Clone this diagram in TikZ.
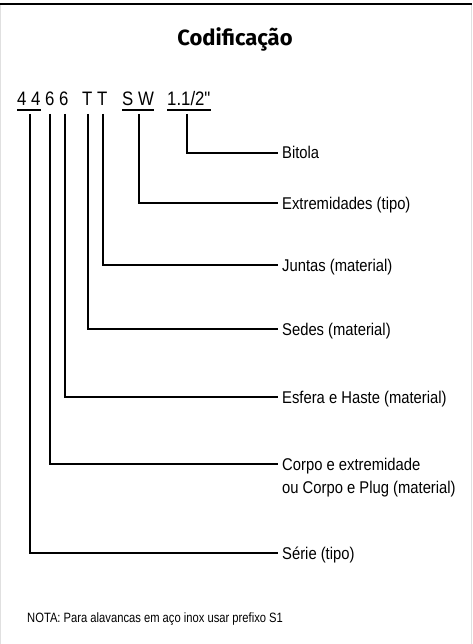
\documentclass[tikz,border=0pt]{standalone}
\usepackage{fontspec}
\newfontfamily\labfont{Liberation Sans}[FakeStretch=0.87]
\newfontfamily\codefont{Liberation Sans}[FakeStretch=0.86]
\newfontfamily\notafont{Liberation Sans}[FakeStretch=0.83]
\newfontfamily\titfont{Fira Sans}
\begin{document}
\begin{tikzpicture}[x=1pt,y=-1pt,
  lab/.style={anchor=west,inner xsep=4pt,inner ysep=0pt,text height=12.5pt,text depth=0.5pt,font=\labfont\fontsize{17}{20}\selectfont},
  code/.style={anchor=base west,inner sep=0pt,font=\codefont\fontsize{19.5}{22}\selectfont},
  conn/.style={line width=1.5pt},
  uline/.style={line width=1.2pt}]
\useasboundingbox (0,0) rectangle (472,644);
\fill[white] (0,0) rectangle (472,644);
\draw[black!12,line width=1pt] (0.5,4) -- (0.5,644) (471.5,4) -- (471.5,644);
\draw[line width=2.5pt] (0,4) -- (472,4);
\node[font=\titfont\bfseries\fontsize{22}{25}\selectfont] (title) at (235,39) {Codificação};
% code row
\node[code] (c44) at (17,106) {4 4};
\node[code] (c6a) at (45,106) {6};
\node[code] (c6b) at (59,106) {6};
\node[code] (cTa) at (82,106) {T};
\node[code] (cTb) at (97,106) {T};
\node[code] (cSW) at (122,106) {S W};
\node[code] (cBi) at (167,106) {1.1/2"};
\foreach \n in {c44,cSW,cBi}{\draw[uline] ([yshift=-4pt]\n.base west) -- ([yshift=-4pt]\n.base east);}
% labels
\node[lab] (bit) at (278,153) {Bitola};
\node[lab] (ext) at (278,203) {Extremidades (tipo)};
\node[lab] (jun) at (278,265) {Juntas (material)};
\node[lab] (sed) at (278,329) {Sedes (material)};
\node[lab] (esf) at (278,397) {Esfera e Haste (material)};
\node[lab] (cor) at (278,464) {Corpo e extremidade};
\node[lab] (cor2) at (278,487) {ou Corpo e Plug (material)};
\node[lab] (ser) at (278,553) {Série (tipo)};
\node[anchor=base west,inner sep=0pt,font=\notafont\fontsize{13.5}{16}\selectfont] (nota) at (27,622) {NOTA: Para alavancas em aço inox usar prefixo S1};
% connector starts
\coordinate (s1) at (30,114);
\coordinate (s2) at (50,114);
\coordinate (s3) at (65,114);
\coordinate (s4) at (88,114);
\coordinate (s5) at (103,114);
\coordinate (s6) at (139,114);
\coordinate (s7) at (187,114);
\draw[conn] (s7) |- (bit.west);
\draw[conn] (s6) |- (ext.west);
\draw[conn] (s5) |- (jun.west);
\draw[conn] (s4) |- (sed.west);
\draw[conn] (s3) |- (esf.west);
\draw[conn] (s2) |- (cor.west);
\draw[conn] (s1) |- (ser.west);
\end{tikzpicture}
\end{document}
